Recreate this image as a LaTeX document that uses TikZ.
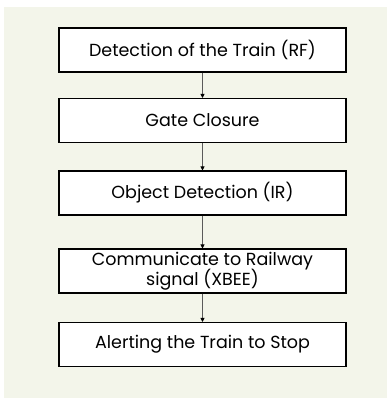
\documentclass[tikz,border=0pt]{standalone}
\usepackage{fontspec}
\setmainfont{Poppins}
\usetikzlibrary{arrows.meta}
\definecolor{panel}{RGB}{243,245,234}
\definecolor{linkgray}{RGB}{90,90,90}

\begin{document}
\begin{tikzpicture}[x=1pt,y=-1pt,
	stepbox/.style={draw=black,line width=1.1pt,fill=white,minimum width=287pt,
		minimum height=44pt,inner sep=1pt,align=center,font=\fontsize{17.5}{18}\selectfont},
	link/.style={draw=linkgray,line width=0.8pt,-{Triangle[length=4pt,width=4pt,color=black]}}]
	\useasboundingbox (0,0) rectangle (390,399);
	\fill[panel] (4,7) rectangle (387,398);
	\foreach \Y/\T [count=\Z] in {50/Detection of the Train (RF), 120.5/Gate Closure,
	193/Object Detection (IR), 271/{Communicate to Railway\\[-2pt]signal (XBEE)},
	344.5/Alerting the Train to Stop}
	{\node[stepbox] (s\Z) at (202.5,\Y) {\T};}
	\foreach \A/\B in {1/2,2/3,3/4,4/5}
	{\draw[link] (s\A) -- (s\B);}
\end{tikzpicture}
\end{document}
